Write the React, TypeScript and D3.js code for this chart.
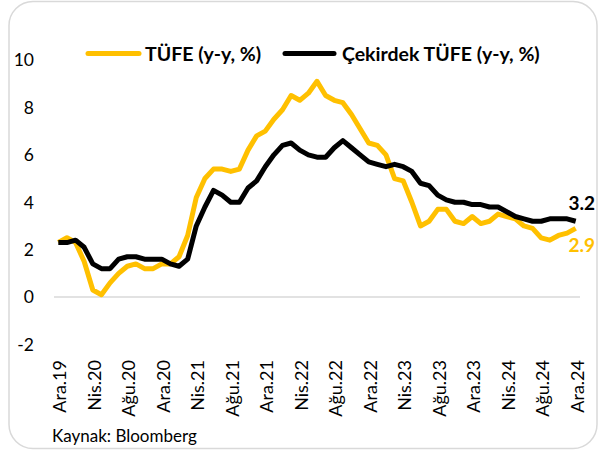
import React from "react";
import * as d3 from "d3";

const months = ["Oca", "Şub", "Mar", "Nis", "May", "Haz", "Tem", "Ağu", "Eyl", "Eki", "Kas", "Ara"];
const categories: string[] = ["Ara.19"];
for (let y = 20; y <= 24; y++) for (const m of months) categories.push(`${m}.${y}`);

const tufe = [
  2.3,
  2.5, 2.3, 1.5, 0.3, 0.1, 0.6, 1.0, 1.3, 1.4, 1.2, 1.2, 1.4,
  1.4, 1.7, 2.6, 4.2, 5.0, 5.4, 5.4, 5.3, 5.4, 6.2, 6.8, 7.0,
  7.5, 7.9, 8.5, 8.3, 8.6, 9.1, 8.5, 8.3, 8.2, 7.7, 7.1, 6.5,
  6.4, 6.0, 5.0, 4.9, 4.0, 3.0, 3.2, 3.7, 3.7, 3.2, 3.1, 3.4,
  3.1, 3.2, 3.5, 3.4, 3.3, 3.0, 2.9, 2.5, 2.4, 2.6, 2.7, 2.9,
];
const cekirdek = [
  2.3,
  2.3, 2.4, 2.1, 1.4, 1.2, 1.2, 1.6, 1.7, 1.7, 1.6, 1.6, 1.6,
  1.4, 1.3, 1.6, 3.0, 3.8, 4.5, 4.3, 4.0, 4.0, 4.6, 4.9, 5.5,
  6.0, 6.4, 6.5, 6.2, 6.0, 5.9, 5.9, 6.3, 6.6, 6.3, 6.0, 5.7,
  5.6, 5.5, 5.6, 5.5, 5.3, 4.8, 4.7, 4.3, 4.1, 4.0, 4.0, 3.9,
  3.9, 3.8, 3.8, 3.6, 3.4, 3.3, 3.2, 3.2, 3.3, 3.3, 3.3, 3.2,
];
const yTicks = [-2, 0, 2, 4, 6, 8, 10];
const seriesNames = ["TÜFE (y-y, %)", "Çekirdek TÜFE (y-y, %)"];

const W = 599;
const H = 452;
const FONT = "Lato, 'Open Sans', sans-serif";
const YELLOW = "#FFC000";

export default function App() {
  const x = d3.scalePoint<string>().domain(categories).range([54, 580]).padding(0.5);
  const y = d3.scaleLinear().domain([-2, 10]).range([344.5, 60]);
  const line = (vals: number[]) =>
    d3.line<number>().x((_, i) => x(categories[i])!).y((d) => y(d))(vals) || "";
  const last = categories.length - 1;
  const xLabels = categories.filter((_, i) => i % 4 === 0);

  return (
    <svg width={W} height={H} style={{ position: "absolute", left: 0, top: 0 }} fontFamily={FONT}>
      <rect x={0} y={0} width={W} height={H} fill="#fff" />
      <rect x={9} y={1.5} width={588} height={447} rx={24} ry={24} fill="#fff" stroke="#d9d9d9" strokeWidth={1.5} />
      <line x1={54} x2={580} y1={y(0)} y2={y(0)} stroke="#d9d9d9" strokeWidth={1.5} />
      {yTicks.map((t) => (
        <text key={t} x={34} y={y(t)} dy="0.36em" textAnchor="end" fontSize={17.5} fill="#000">
          {t}
        </text>
      ))}
      {xLabels.map((c) => (
        <text
          key={c}
          transform={`translate(${x(c)! + 1.5},360) rotate(-90)`}
          textAnchor="end"
          dy="0.36em"
          fontSize={18}
          fill="#000"
        >
          {c}
        </text>
      ))}
      <path d={line(tufe)} fill="none" stroke={YELLOW} strokeWidth={5} strokeLinejoin="round" />
      <path d={line(cekirdek)} fill="none" stroke="#000" strokeWidth={5} strokeLinejoin="round" />
      <text x={x(categories[last])! + 6} y={y(cekirdek[last]) - 11} textAnchor="middle" fontSize={19} fontWeight="bold" fill="#000">
        {cekirdek[last].toFixed(1)}
      </text>
      <text x={x(categories[last])! + 6} y={y(tufe[last]) + 24} textAnchor="middle" fontSize={19} fontWeight="bold" fill={YELLOW}>
        {tufe[last].toFixed(1)}
      </text>
      <g>
        <line x1={88} x2={139} y1={53.5} y2={53.5} stroke={YELLOW} strokeWidth={5} strokeLinecap="round" />
        <text x={145} y={54} dy="0.36em" fontSize={19.5} fontWeight="bold" fill="#000">
          {seriesNames[0]}
        </text>
        <line x1={285} x2={334} y1={53.5} y2={53.5} stroke="#000" strokeWidth={5} strokeLinecap="round" />
        <text x={342} y={54} dy="0.36em" fontSize={19.5} fontWeight="bold" fill="#000">
          {seriesNames[1]}
        </text>
      </g>
      <text x={52} y={442} fontSize={17} fill="#000">
        Kaynak: Bloomberg
      </text>
    </svg>
  );
}
